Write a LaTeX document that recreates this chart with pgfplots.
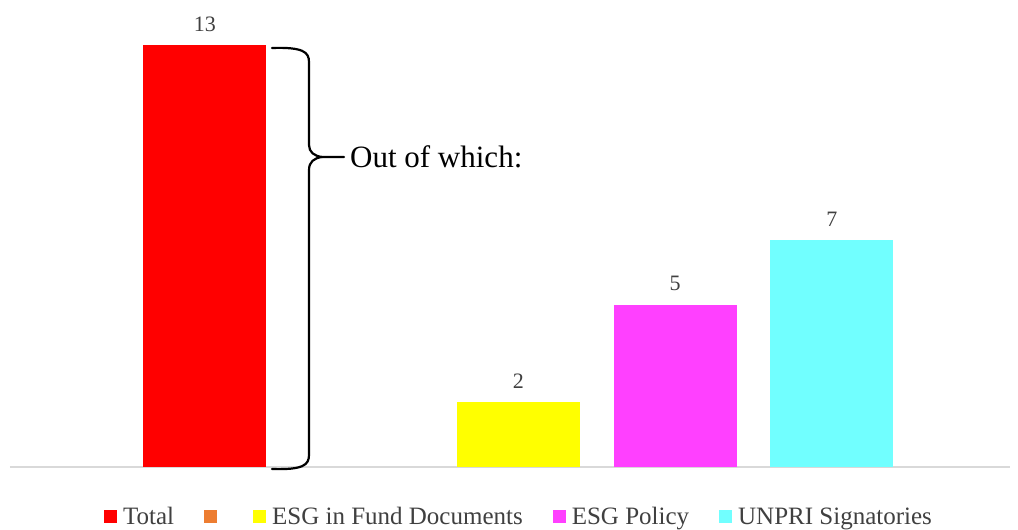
\documentclass[border=0pt]{standalone}
\usepackage{fontspec}
\setmainfont{Liberation Serif}
\usepackage{pgfplots}
\pgfplotsset{compat=1.18}
\usetikzlibrary{calc}

\definecolor{barred}{HTML}{FF0000}
\definecolor{barorange}{HTML}{ED7D31}
\definecolor{baryellow}{HTML}{FFFF00}
\definecolor{barmagenta}{HTML}{FF40FF}
\definecolor{barcyan}{HTML}{71FFFF}
\definecolor{labgray}{HTML}{404040}
\definecolor{axisgray}{HTML}{D9D9D9}

\begin{document}
\begin{tikzpicture}[x=1pt,y=1pt]
\begin{axis}[
  scale only axis,
  width=1000pt, height=467pt,
  xmin=-1.244, xmax=5.136,
  ymin=0, ymax=14.387,
  axis x line*=bottom,
  axis y line=none,
  x axis line style={axisgray, line width=1.2pt},
  xtick=\empty, ytick=\empty,
  ybar, bar width=123pt, bar shift=0pt,
  nodes near coords,
  /pgf/number format/assume math mode=true,
  every node near coord/.append style={font=\fontsize{22}{26}\selectfont, text=labgray, yshift=10pt},
  legend columns=-1,
  legend style={draw=none, at={(0.509,-0.107)}, anchor=center,
    font=\fontsize{25}{29}\selectfont, text=labgray,
    /tikz/every odd column/.append style={column sep=4pt},
    /tikz/every even column/.append style={column sep=28pt}},
  legend image code/.code={\fill[#1] (0pt,-6.5pt) rectangle (13pt,6.5pt);},
]
\addplot[draw=none, fill=barred] coordinates {(0,13)};
\addlegendentry{Total}
\addlegendimage{draw=none, fill=barorange}
\addlegendentry{}
\addplot[draw=none, fill=baryellow] coordinates {(2,2)};
\addlegendentry{ESG in Fund Documents}
\addplot[draw=none, fill=barmagenta] coordinates {(3,5)};
\addlegendentry{ESG Policy}
\addplot[draw=none, fill=barcyan] coordinates {(4,7)};
\addlegendentry{UNPRI Signatories}
\end{axis}
\begin{scope}[shift={($(current axis.south west)+(-10pt,467pt)$)}, x=1pt, y=-1pt]
  \draw[line width=2.2pt, line cap=round, line join=round]
    (272,48) .. controls (303,47) and (309,52) .. (309,62) -- (309,145)
    .. controls (309,152) and (314,156) .. (322,157) -- (344,157);
  \draw[line width=2.2pt, line cap=round, line join=round]
    (272,469) .. controls (303,470) and (309,465) .. (309,455) -- (309,170)
    .. controls (309,162) and (314,158) .. (322,157);
  \node[anchor=west, inner sep=0pt, font=\fontsize{31}{36}\selectfont] at (350,157) {Out of which:};
  \pgfresetboundingbox
  \path[use as bounding box] (0,0) rectangle (1018,530);
\end{scope}
\end{tikzpicture}
\end{document}
